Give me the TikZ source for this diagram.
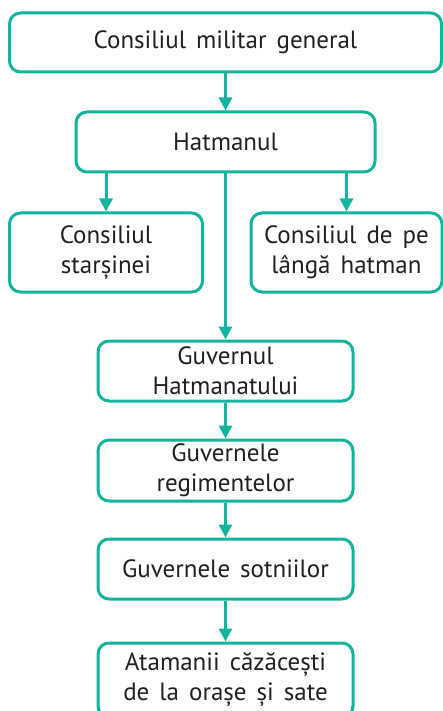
\documentclass[tikz,border=0pt]{standalone}
\usepackage{fontspec}
\setmainfont{PT Sans}[WordSpace=1.5]
\usetikzlibrary{arrows.meta}
\definecolor{tealline}{RGB}{18,180,155}
\definecolor{txtcol}{RGB}{35,31,32}
\begin{document}
\begin{tikzpicture}[x=1pt,y=-1pt,
  box/.style={draw=tealline,line width=3pt,rounded corners=11pt,rectangle,inner sep=0pt,align=center,text=txtcol,font=\fontsize{25}{30}\selectfont},
  arr/.style={draw=tealline,line width=3pt,-{Triangle[length=13pt,width=13pt]}}]
\useasboundingbox (0,0) rectangle (443,711);
\node[box,minimum width=432pt,minimum height=59pt] (b1) at (225.5,42.5) {Consiliul militar general};
\node[box,minimum width=299pt,minimum height=60pt] (b2) at (225.5,142) {Hatmanul};
\node[box,minimum width=193pt,minimum height=79pt] (b3) at (106,252.5) {Consiliul\\starșinei};
\node[box,minimum width=191pt,minimum height=79pt] (b4) at (346.5,252.5) {Consiliul de pe\\lângă hatman};
\node[box,minimum width=255pt,minimum height=60pt] (b5) at (225.5,371) {Guvernul\\Hatmanatului};
\node[box,minimum width=255pt,minimum height=61pt] (b6) at (225.5,470.5) {Guvernele\\regimentelor};
\node[box,minimum width=255pt,minimum height=60pt] (b7) at (225.5,569) {Guvernele sotniilor};
\node[box,minimum width=255pt,minimum height=74pt] (b8) at (225.5,680) {Atamanii căzăcești\\de la orașe și sate};
\draw[arr] (b1.south) -- (b2.north);
\draw[arr] (b2.south -| b3.north) -- (b3.north);
\draw[arr] (b2.south -| b4.north) -- (b4.north);
\draw[arr] (b2.south) -- (b5.north);
\draw[arr] (b5.south) -- (b6.north);
\draw[arr] (b6.south) -- (b7.north);
\draw[arr] (b7.south) -- (b8.north);
\end{tikzpicture}
\end{document}
